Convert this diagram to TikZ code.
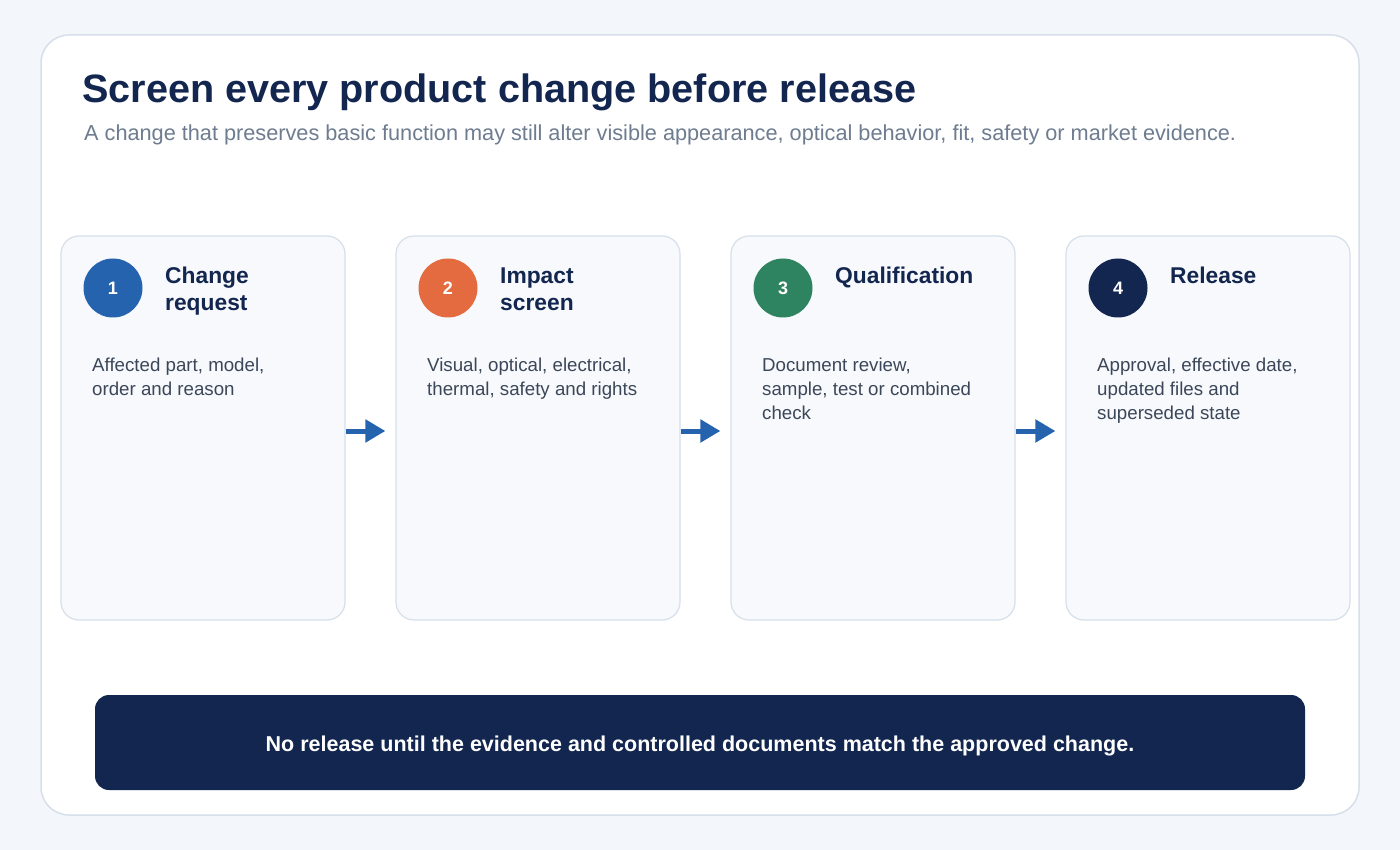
\documentclass[tikz,border=0pt]{standalone}
\usepackage{fontspec}
\setmainfont{Liberation Sans}
\usetikzlibrary{arrows.meta}
\definecolor{bgc}{HTML}{F3F6FA}
\definecolor{lineC}{HTML}{D6DFEA}
\definecolor{cardfill}{HTML}{F7F9FC}
\definecolor{navy}{HTML}{13264F}
\definecolor{stepblue}{HTML}{2563AE}
\definecolor{steporange}{HTML}{E36B3F}
\definecolor{stepgreen}{HTML}{2E8460}
\definecolor{bodyC}{HTML}{3B4759}
\definecolor{subC}{HTML}{6E7C90}
\tikzset{
  panel/.style={draw=lineC, line width=1.2pt, fill=cardfill, rounded corners=18pt, minimum width=284pt, minimum height=384pt, inner sep=0pt},
  badge/.style={circle, minimum size=59pt, inner sep=0pt, text=white, font=\fontsize{18}{20}\selectfont\bfseries},
  stitle/.style={anchor=base west, inner sep=0pt, align=left, text=navy, font=\fontsize{22.8}{27}\selectfont\bfseries},
  sbody/.style={anchor=base west, inner sep=0pt, align=left, text=bodyC, font=\fontsize{18.7}{24}\selectfont},
  flow/.style={draw=stepblue, line width=5pt, -{Triangle[length=20pt,width=22pt]}}
}
\begin{document}
\begin{tikzpicture}[x=1pt,y=-1pt]
\useasboundingbox (0,0) rectangle (1400,850);
\fill[bgc] (0,0) rectangle (1400,850);
\draw[lineC, line width=1.5pt, fill=white, rounded corners=28pt] (41,35) rectangle (1359,815);
\node[anchor=base west, inner sep=0pt, text=navy, font=\fontsize{39.6}{46}\selectfont\bfseries] (title) at (82,103) {Screen every product change before release};
\node[anchor=base west, inner sep=0pt, text=subC, font=\fontsize{21.7}{26}\selectfont] (sub) at (84,141) {A change that preserves basic function may still alter visible appearance, optical behavior, fit, safety or market evidence.};
% cards
\node[panel] (c1) at (203,428) {};
\node[panel] (c2) at (538,428) {};
\node[panel] (c3) at (873,428) {};
\node[panel] (c4) at (1208,428) {};
% badges
\node[badge, fill=stepblue] (b1) at (113,288) {1};
\node[badge, fill=steporange] (b2) at (448,288) {2};
\node[badge, fill=stepgreen] (b3) at (783,288) {3};
\node[badge, fill=navy] (b4) at (1118,288) {4};
% titles (base anchor = last line)
\node[stitle] (t1) at (165,311) {Change\\request};
\node[stitle] (t2) at (500,311) {Impact\\screen};
\node[stitle] (t3) at (835,284) {Qualification};
\node[stitle] (t4) at (1170,284) {Release};
% bodies
\node[sbody] (d1) at (92,395) {Affected part, model,\\order and reason};
\node[sbody] (d2) at (427,395) {Visual, optical, electrical,\\thermal, safety and rights};
\node[sbody] (d3) at (762,419) {Document review,\\sample, test or combined\\check};
\node[sbody] (d4) at (1097,419) {Approval, effective date,\\updated files and\\superseded state};
% arrows
\draw[flow] ([yshift=-3pt]c1.east) -- ([xshift=-10pt,yshift=-3pt]c2.west);
\draw[flow] ([yshift=-3pt]c2.east) -- ([xshift=-10pt,yshift=-3pt]c3.west);
\draw[flow] ([yshift=-3pt]c3.east) -- ([xshift=-10pt,yshift=-3pt]c4.west);
% banner
\node[fill=navy, rounded corners=14pt, minimum width=1210pt, minimum height=95pt, inner sep=0pt] (banner) at (700,742.5) {};
\node[anchor=base, inner sep=0pt, text=white, font=\fontsize{21.5}{24}\selectfont\bfseries] (bannertext) at (700,751) {No release until the evidence and controlled documents match the approved change.};
\end{tikzpicture}
\end{document}
